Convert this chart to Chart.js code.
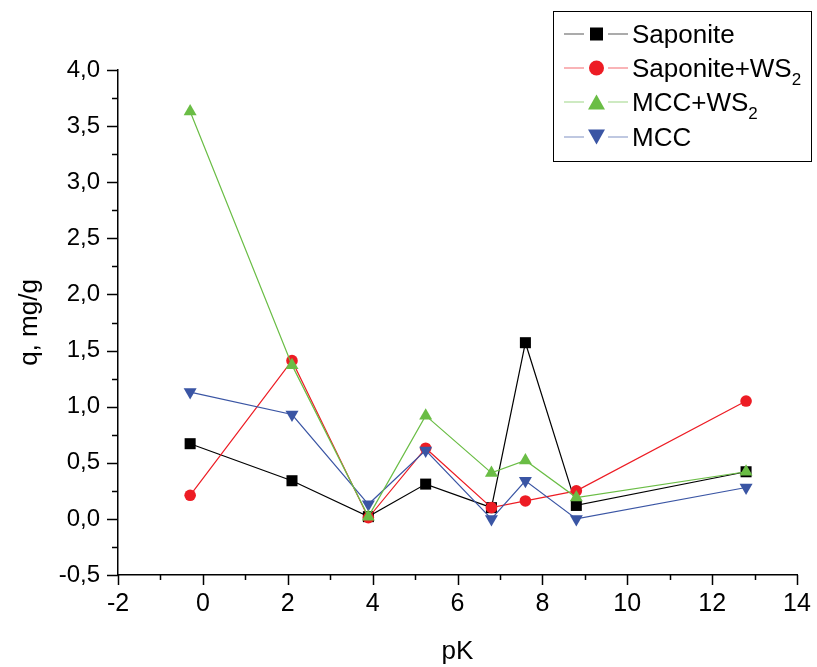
<!DOCTYPE html>
<html lang="en">
<head>
  <meta charset="UTF-8">
  <title>q vs pK</title>
  <script src="https://cdn.jsdelivr.net/npm/chart.js"></script>
  <style>
    body { margin: 0; background: #fff; font-family: "Liberation Sans", Arial, sans-serif; }
    #wrap { position: relative; width: 817px; height: 667px; }
    #legend { position: absolute; left: 553px; top: 11px; width: 259px; height: 151px;
              border: 1.5px solid #000; box-sizing: border-box; }
    .row { position: absolute; left: 0; height: 34px; width: 256px; }
    .row svg { position: absolute; left: 8px; top: 0; }
    .row span { position: absolute; left: 78px; top: 0; line-height: 34px; font-size: 26px; color: #000; white-space: nowrap; }
    .row sub { font-size: 17px; vertical-align: -8px; line-height: 0; }
  </style>
</head>
<body>
<div id="wrap">
  <canvas id="chart" width="817" height="667"></canvas>
  <div id="legend"></div>
</div>
<script>
// pK values (same for every series)
var pK = [-0.3, 2.1, 3.9, 5.25, 6.8, 7.6, 8.8, 12.8];

var saponite      = [0.67, 0.34, 0.02, 0.31, 0.10, 1.57, 0.12, 0.42];
var saponiteWS2   = [0.21, 1.41, 0.01, 0.63, 0.10, 0.16, 0.25, 1.05];
var mccWS2        = [3.63, 1.37, 0.02, 0.92, 0.41, 0.52, 0.19, 0.42];
var mcc           = [1.13, 0.93, 0.13, 0.61, 0.00, 0.34, 0.00, 0.28];

var seriesNames = ["Saponite", "Saponite+WS<sub>2</sub>", "MCC+WS<sub>2</sub>", "MCC"];
var seriesColors = ["#000000", "#ed1c24", "#6abd45", "#3a55a4"];

function toPoints(ys) {
  var pts = [];
  for (var i = 0; i < pK.length; i++) pts.push({ x: pK[i], y: ys[i] });
  return pts;
}

function makeSet(label, ys, color, style, radius, rotation, order) {
  return {
    label: label,
    data: toPoints(ys),
    borderColor: color,
    backgroundColor: color,
    borderWidth: 1.2,
    pointStyle: style,
    pointRadius: radius,
    pointRotation: rotation,
    pointBorderWidth: 0,
    pointBackgroundColor: color,
    showLine: true,
    tension: 0,
    order: order
  };
}

// draws the outward major / minor tick marks on both axes
var tickMarks = {
  id: "tickMarks",
  afterDraw: function (chart) {
    var ctx = chart.ctx;
    var xs = chart.scales.x, ys = chart.scales.y;
    var axisY = ys.getPixelForValue(-0.5);
    var axisX = xs.getPixelForValue(-2);
    ctx.save();
    ctx.strokeStyle = "#000";
    ctx.lineWidth = 1.5;
    ctx.beginPath();
    for (var v = -2; v <= 14; v++) {
      var px = Math.round(xs.getPixelForValue(v)) + 0.5;
      var len = (v % 2 === 0) ? 10 : 5;
      ctx.moveTo(px, axisY);
      ctx.lineTo(px, axisY + len);
    }
    for (var k = 0; k <= 18; k++) {
      var val = -0.5 + k * 0.25;
      var py = Math.round(ys.getPixelForValue(val)) + 0.5;
      var l = (k % 2 === 0) ? 11 : 6;
      ctx.moveTo(axisX, py);
      ctx.lineTo(axisX - l, py);
    }
    ctx.stroke();
    ctx.restore();
  }
};

var ctx = document.getElementById("chart").getContext("2d");
var myChart = new Chart(ctx, {
  type: "scatter",
  data: {
    datasets: [
      makeSet("Saponite", saponite, seriesColors[0], "rect", 7.8, 0, 3),
      makeSet("Saponite+WS2", saponiteWS2, seriesColors[1], "circle", 5.8, 0, 2),
      makeSet("MCC+WS2", mccWS2, seriesColors[2], "triangle", 7.5, 0, 0),
      makeSet("MCC", mcc, seriesColors[3], "triangle", 7.5, 180, 1)
    ]
  },
  options: {
    responsive: false,
    animation: false,
    layout: { padding: { left: 14, top: 70, right: 20, bottom: 0 } },
    plugins: { legend: { display: false }, tooltip: { enabled: false } },
    scales: {
      x: {
        type: "linear",
        min: -2, max: 14,
        afterFit: function (s) { s.height = 92; s.paddingLeft = 0; s.paddingRight = 0; },
        grid: { display: false, drawTicks: false },
        border: { display: true, color: "#000", width: 1.5 },
        ticks: {
          stepSize: 2, padding: 14, color: "#000",
          font: { family: "Liberation Sans", size: 25 },
          maxRotation: 0,
          callback: function (v) { return String(v); }
        },
        title: {
          display: true, text: "pK", color: "#000", padding: 0,
          font: { family: "Liberation Sans", size: 26 }
        }
      },
      y: {
        min: -0.5, max: 4,
        afterFit: function (s) { s.width = 104; s.paddingTop = 0; s.paddingBottom = 0; },
        grid: { display: false, drawTicks: false },
        border: { display: true, color: "#000", width: 1.5 },
        ticks: {
          stepSize: 0.5, padding: 18, color: "#000",
          font: { family: "Liberation Sans", size: 24 },
          callback: function (v) { return v.toFixed(1).replace(".", ","); }
        },
        title: {
          display: true, text: "q, mg/g", color: "#000", padding: 0,
          font: { family: "Liberation Sans", size: 26 }
        }
      }
    }
  },
  plugins: [tickMarks]
});

// legend with subscripts, built as html
function markerSvg(i, color) {
  var m;
  if (i === 0) m = '<rect x="28" y="10.5" width="13" height="13" fill="' + color + '"/>';
  else if (i === 1) m = '<circle cx="34.5" cy="17" r="7.5" fill="' + color + '"/>';
  else if (i === 2) m = '<polygon points="26,24.5 43,24.5 34.5,9.5" fill="' + color + '"/>';
  else m = '<polygon points="26,9.5 43,9.5 34.5,24.5" fill="' + color + '"/>';
  return '<svg width="70" height="34">' +
    '<line x1="2" y1="17" x2="22" y2="17" stroke="' + color + '" stroke-opacity="0.55" stroke-width="1.2"/>' +
    '<line x1="46" y1="17" x2="66" y2="17" stroke="' + color + '" stroke-opacity="0.55" stroke-width="1.2"/>' +
    m + '</svg>';
}
var rowTops = [5, 39, 73, 108];
var legend = document.getElementById("legend");
for (var i = 0; i < seriesNames.length; i++) {
  var row = document.createElement("div");
  row.className = "row";
  row.style.top = rowTops[i] + "px";
  row.innerHTML = markerSvg(i, seriesColors[i]) + "<span>" + seriesNames[i] + "</span>";
  legend.appendChild(row);
}
</script>
</body>
</html>
